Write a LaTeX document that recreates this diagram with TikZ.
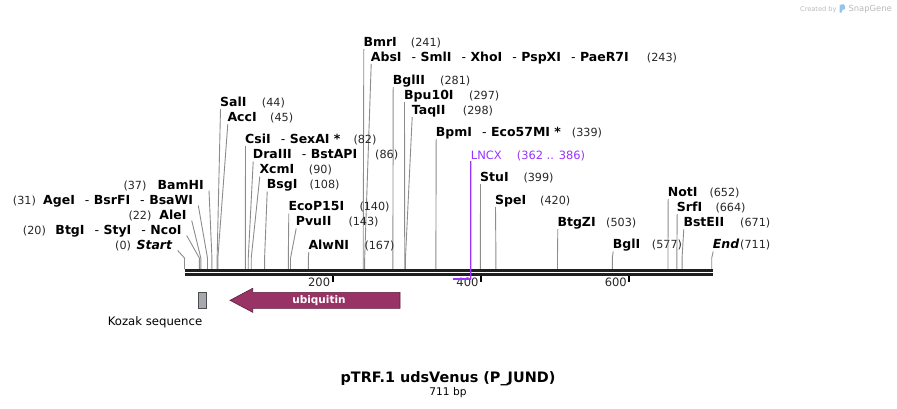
\documentclass[tikz,border=0pt]{standalone}
\usepackage{fontspec}
\setmainfont{DejaVu Sans}
\usetikzlibrary{positioning}
\definecolor{sitegray}{RGB}{140,140,140}
\definecolor{ubqred}{RGB}{153,51,102}
\definecolor{ubqedge}{RGB}{90,30,60}
\definecolor{kozakgray}{RGB}{166,170,176}
\definecolor{lncxpurple}{RGB}{153,51,255}
\definecolor{logogray}{RGB}{185,185,185}
\definecolor{logoblue}{RGB}{150,195,235}
\newcommand{\bpx}[1]{184.5+0.7415*#1}
\newcommand{\dsh}{\hspace{10pt}{\mdseries -}\hspace{4.5pt}}
\tikzset{
  enz/.style={inner sep=0pt, font=\fontsize{12.5}{14}\selectfont\bfseries},
  posnum/.style={inner sep=0pt, font=\fontsize{11.2}{13}\selectfont, text=black!85},
  site/.style={draw=sitegray, line width=0.9pt},
}
\begin{document}
\begin{tikzpicture}[x=1pt,y=-1pt]
  \useasboundingbox (0,0) rectangle (897,408);

  % enzymes labelled to the right of their line
  \foreach \bp/\lx/\ly/\enzname/\nx [count=\i] in {
      241/363.3/46/BmrI/410.7,
      243/370.7/61/AbsI\dsh SmlI\dsh XhoI\dsh PspXI\dsh PaeR7I/646.7,
      281/392.7/84/BglII/440,
      297/404/99/Bpu10I/469,
      298/411.7/114/TaqII/462.7,
      339/435.7/136/BpmI\dsh Eco57MI */571.7,
      44/220/106/SalI/261.7,
      45/227.3/121/AccI/270,
      82/245/143/CsiI\dsh SexAI */353.3,
      86/252.7/158.5/DraIII\dsh BstAPI/375,
      90/259.3/173.5/XcmI/308.7,
      108/266.7/188.5/BsgI/309.3,
      140/288.3/210.5/EcoP15I/359.3,
      143/295.7/225.5/PvuII/348.3,
      167/308.3/249/AlwNI/364.3,
      399/480/181/StuI/523.3,
      420/495/204/SpeI/540,
      503/557.3/226/BtgZI/606,
      577/612.7/248.5/BglI/651.7,
      652/667.7/196/NotI/709.3,
      664/676.7/211/SrfI/715.3,
      671/683.3/226/BstEII/740,
      711/712.7/248.5/\textit{End}/740} {
    \node[enz, anchor=base west] (r\i) at (\lx,\ly) {\enzname};
    \node[posnum, anchor=base west] (rn\i) at (\nx,\ly) {(\bp)};
    \coordinate (rk\i) at ({\bpx{\bp}},258);
    \coordinate (rs\i) at ({\bpx{\bp}},269);
    \draw[site] ([xshift=0.5pt,yshift=-3pt]r\i.base west) -- (rk\i) -- (rs\i);
  }

  % enzymes labelled to the left of their line
  \foreach \bp/\rx/\ly/\enzname/\nx [count=\i] in {
      0/172.7/249/\textit{Start}/115,
      20/181.7/234/BtgI\dsh StyI\dsh NcoI/22.7,
      22/186.7/219/AleI/128.3,
      31/193.3/204/AgeI\dsh BsrFI\dsh BsaWI/12.7,
      37/204/189/BamHI/123.3} {
    \node[enz, anchor=base east] (l\i) at (\rx,\ly) {\enzname};
    \node[posnum, anchor=base west] (ln\i) at (\nx,\ly) {(\bp)};
    \coordinate (lk\i) at ({\bpx{\bp}},258);
    \coordinate (ls\i) at ({\bpx{\bp}},269);
    \draw[site] ([xshift=5pt,yshift=-1.5pt]l\i.base east) -- (lk\i) -- (ls\i);
  }

  % backbone
  \draw[line width=2.7pt, black!88] (184.5,270.3) -- (712.5,270.3);
  \draw[line width=2.3pt, black!88] (184.5,274.5) -- (712.5,274.5);

  % ruler
  \foreach \t in {200,400,600} {
    \draw[line width=2pt] ({\bpx{\t}},275.5) -- ({\bpx{\t}},282);
    \node[posnum, anchor=base east, font=\fontsize{11.5}{13}\selectfont]
      (tick\t) at ({\bpx{\t}-2.5},286) {\t};
  }

  % LNCX feature
  \node[anchor=base west, inner sep=0pt, text=lncxpurple,
    font=\fontsize{11.5}{13}\selectfont] (lncx) at (470.7,159) {LNCX};
  \node[anchor=base west, inner sep=0pt, text=lncxpurple,
    font=\fontsize{11.4}{13}\selectfont] (lncxpos) at (516.7,159) {(362 .. 386)};
  \coordinate (lncxL) at ({\bpx{362}},279);
  \coordinate (lncxR) at ({\bpx{386}},279);
  \draw[lncxpurple, line width=1.3pt] ([yshift=-2pt]lncx.base west) -- (lncxR);
  \draw[lncxpurple, line width=2pt] (lncxL) -- (lncxR);

  % ubiquitin
  \filldraw[fill=ubqred, draw=ubqedge, line width=0.6pt]
    (400,292.3) -- (252.7,292.3) -- (252.7,288.3) -- (230,300.3)
    -- (252.7,312.3) -- (252.7,308.3) -- (400,308.3) -- cycle;
  \node[text=white, font=\fontsize{10.5}{12}\selectfont\bfseries] (ubq) at (319,300.3) {ubiquitin};

  % Kozak
  \filldraw[fill=kozakgray, draw=black!70, line width=0.6pt] (198.3,292.3) rectangle (206,308.3);
  \node[anchor=base, inner sep=0pt, font=\fontsize{11.7}{13}\selectfont] (kozak) at (155,325) {Kozak sequence};

  % title
  \node[anchor=base, inner sep=0pt, font=\fontsize{14.4}{16}\selectfont\bfseries] (title) at (448,382.7) {pTRF.1 udsVenus (P\_JUND)};
  \node[anchor=base, inner sep=0pt, font=\fontsize{10.6}{12}\selectfont] (len) at (448,395.7) {711 bp};

  % watermark
  \node[anchor=base west, inner sep=0pt, text=logogray, font=\fontsize{6.6}{8}\selectfont] (cby) at (800,11) {Created by};
  \fill[logoblue] (839.5,12.7) -- (839.5,5) .. controls (842,3.5) and (845,4) .. (845,6)
    -- (845,9) .. controls (843,9) and (841.5,10) .. (841.5,12.7) -- cycle;
  \node[anchor=base west, inner sep=0pt, text=logogray, font=\fontsize{8.4}{10}\selectfont] (sg) at (848.3,11.5) {SnapGene};
\end{tikzpicture}
\end{document}
